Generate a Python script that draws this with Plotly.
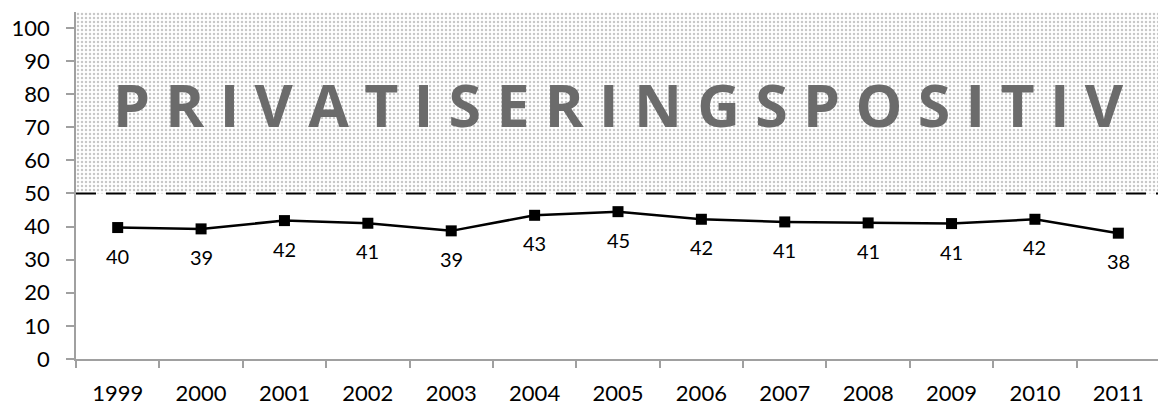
import plotly.graph_objects as go

years = ["1999", "2000", "2001", "2002", "2003", "2004", "2005", "2006", "2007", "2008", "2009", "2010", "2011"]
values = [39.7, 39.3, 41.8, 41.0, 38.7, 43.4, 44.5, 42.2, 41.4, 41.1, 40.9, 42.2, 38.0]
labels = ["40", "39", "42", "41", "39", "43", "45", "42", "41", "41", "41", "42", "38"]
threshold = 50
y_top = 104.8
region_title = "P R I V A T I S E R I N G S P O S I T I V"

pos = list(range(len(years)))
x_lo, x_hi = -0.5, len(years) - 0.5
bounds = [i - 0.5 for i in range(len(years) + 1)]

fig = go.Figure()

# patterned "positive" region (above 50)
fig.add_trace(go.Scatter(
    x=[x_lo, x_hi, x_hi, x_lo, x_lo], y=[threshold, threshold, y_top, y_top, threshold],
    mode="none", fill="toself",
    fillcolor="rgba(0,0,0,0)",
    fillpattern=dict(shape=".", fgcolor="#8f8f8f", bgcolor="white", size=4, solidity=0.3),
    hoverinfo="skip", showlegend=False,
))

fig.add_trace(go.Scatter(
    x=pos, y=values, mode="lines+markers",
    line=dict(color="black", width=2.5),
    marker=dict(symbol="square", size=11, color="black"),
    showlegend=False,
))

for p, v, lab in zip(pos, values, labels):
    fig.add_annotation(x=p, y=v, text=lab, showarrow=False, yshift=-28,
                       font=dict(family="Lato, Noto Sans", size=20, color="black"))

fig.add_annotation(x=(x_lo + x_hi) / 2, y=77, text=region_title, showarrow=False,
                   font=dict(family="Open Sans, Lato", size=59, color="#6b6b6b", weight="bold"))

fig.add_shape(type="line", x0=x_lo, x1=x_hi, y0=threshold, y1=threshold,
              line=dict(color="black", width=2, dash="20px,10px"))

axis_font = dict(family="Lato, Noto Sans", size=22, color="black")
fig.update_layout(
    width=1158, height=397,
    margin=dict(l=68, r=6, t=4, b=46),
    plot_bgcolor="white", paper_bgcolor="white",
    xaxis=dict(range=[x_lo, x_hi], tickvals=pos, ticktext=years, ticks="", ticklabelstandoff=14,
               automargin=False,
               minor=dict(tickvals=bounds, ticks="outside", ticklen=7, tickcolor="#a0a0a0",
                          tickwidth=1.5, showgrid=False),
               showline=True, linecolor="#a0a0a0", linewidth=1.5, showgrid=False, zeroline=False,
               tickfont=axis_font),
    yaxis=dict(range=[0, y_top], tickvals=list(range(0, 101, 10)), ticks="outside", ticklen=8,
               ticklabelstandoff=12, automargin=False,
               tickcolor="#a0a0a0", tickwidth=1.5, showline=True, linecolor="#a0a0a0",
               linewidth=1.5, showgrid=False, zeroline=False,
               tickfont=axis_font),
)

fig.write_html("out.html")
